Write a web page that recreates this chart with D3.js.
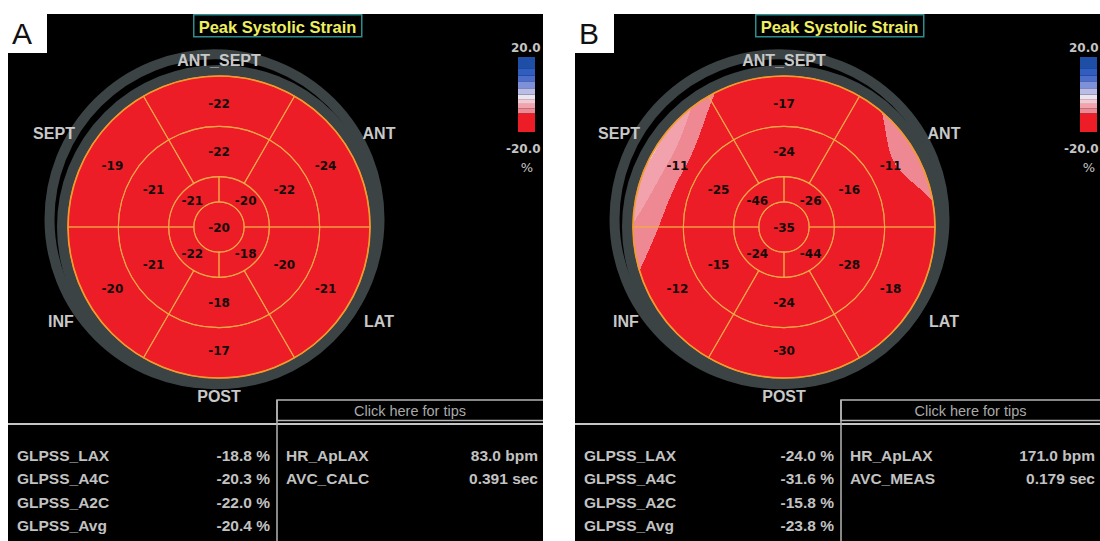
<!DOCTYPE html>
<html>
<head>
<meta charset="utf-8">
<script src="https://cdn.jsdelivr.net/npm/d3@7"></script>
<style>
  html, body { margin: 0; padding: 0; background: #ffffff; }
  svg { display: block; }
</style>
</head>
<body>
<svg id="chart" width="1100" height="541"></svg>
<script>
// ---- Data -------------------------------------------------------------
// Wall order, clockwise from the top of the bull's-eye
const walls = ["ANT_SEPT", "ANT", "LAT", "POST", "INF", "SEPT"];

// Peak systolic strain per segment (%), walls order; apical quadrants UR, LR, LL, UL
const basalA  = [-22, -24, -21, -17, -20, -19];
const midA    = [-22, -22, -20, -18, -21, -21];
const apicalA = [-20, -18, -22, -21];
const apexA   = -20;

const basalB  = [-17, -11, -18, -30, -12, -11];
const midB    = [-24, -16, -28, -24, -15, -25];
const apicalB = [-26, -44, -24, -46];
const apexB   = -35;

// Global strain table
const globalLabels = ["GLPSS_LAX", "GLPSS_A4C", "GLPSS_A2C", "GLPSS_Avg"];
const globalA = [-18.8, -20.3, -22.0, -20.4];
const globalB = [-24.0, -31.6, -15.8, -23.8];

const infoLabelsA = ["HR_ApLAX", "AVC_CALC"];
const infoLabelsB = ["HR_ApLAX", "AVC_MEAS"];
const heartRateA = 83.0, avcA = 0.391;
const heartRateB = 171.0, avcB = 0.179;

// Colour legend (strain %, stepped)
const legendDomain = [-20, 20];
const legendThresholds = [-10, -7.5, -5, -2.5, 0, 3.3, 6.7, 10, 14];
const legendColors = ["#ec1d26", "#ee8993", "#f2a2ad", "#f6c9d2", "#ebe4f1",
                      "#b9bde7", "#7d90d8", "#4c6ec9", "#2f5ec0", "#1f4ea6"];

const titleText = "Peak Systolic Strain";
const tipsText = "Click here for tips";
const unitText = "%";

// ---- Helpers ----------------------------------------------------------
const locale = d3.formatLocale({decimal: ".", thousands: ",", grouping: [3], currency: ["", ""], minus: "-"});
const f1 = locale.format(".1f");
const f3 = locale.format(".3f");
const fInt = locale.format("d");

const strainColor = d3.scaleThreshold().domain(legendThresholds).range(legendColors);
const rgbCache = new Map(legendColors.map(c => [c, d3.rgb(c)]));

const R = 151;                     // bull's-eye radius
const cy = 227;
const radius = d3.scaleLinear().domain([0, 1]).range([0, R]);
// ring boundaries: apex, apical, mid (basal ring runs out to R)
const rApex = radius(1 / 6), rApical = radius(1 / 3), rMid = radius(2 / 3);
// radii where each ring's value is sampled: apex, apical, mid, basal, rim
const nodeR = [0, radius(0.25), radius(0.5), radius(0.72), R];
// radius of the printed values per ring
const labelR = [0, radius(0.25), radius(0.5), radius(0.815)];
const rimGain = 0.35;              // share of the mid->basal gradient carried to the rim
const wallStep = 2 * Math.PI / walls.length;

function angularBlend(values, a, offset) {
  const n = values.length, step = 2 * Math.PI / n;
  let u = (a - offset) / step;
  u = ((u % n) + n) % n;
  const i = Math.floor(u), t = u - i;
  const w = (1 - Math.cos(Math.PI * t)) / 2;
  return values[i] * (1 - w) + values[(i + 1) % n] * w;
}

// Smooth strain field: piecewise-linear in radius through the ring values,
// continued past the basal ring to the rim.
function strainAt(r, a, p) {
  const ap = angularBlend(p.apical, a, Math.PI / 4);
  const mi = angularBlend(p.mid, a, 0);
  const ba = angularBlend(p.basal, a, 0);
  const rim = ba + rimGain * (ba - mi) * (nodeR[4] - nodeR[3]) / (nodeR[3] - nodeR[2]);
  const vs = [p.apex, ap, mi, ba, rim];
  let s = 0;
  while (s < 3 && r > nodeR[s + 1]) s++;
  const t = (r - nodeR[s]) / (nodeR[s + 1] - nodeR[s]);
  return vs[s] + (vs[s + 1] - vs[s]) * t;
}

function fieldImage(p) {
  const S = 2 * R + 4, c = S / 2;
  const cv = document.createElement("canvas");
  cv.width = S; cv.height = S;
  const ctx = cv.getContext("2d");
  const img = ctx.createImageData(S, S);
  for (let j = 0; j < S; j++) {
    for (let i = 0; i < S; i++) {
      const dx = i + 0.5 - c, dy = j + 0.5 - c;
      const r = Math.hypot(dx, dy);
      if (r > R + 1.5) continue;
      const a = Math.atan2(dx, -dy);
      const col = rgbCache.get(strainColor(strainAt(Math.min(r, R), a, p)));
      const o = 4 * (j * S + i);
      img.data[o] = col.r; img.data[o + 1] = col.g; img.data[o + 2] = col.b; img.data[o + 3] = 255;
    }
  }
  ctx.putImageData(img, 0, 0);
  return {href: cv.toDataURL(), S};
}

// ---- Layout -----------------------------------------------------------
const panels = [
  {id: "A", x0: 8, x1: 543, cx: 219, titleX: 193, legendX: 518, legendTextX: 510, tipsX: 277,
   basal: basalA, mid: midA, apical: apicalA, apex: apexA, global: globalA,
   infoLabels: infoLabelsA, info: [f1(heartRateA) + " bpm", f3(avcA) + " sec"]},
  {id: "B", x0: 575, x1: 1100, cx: 784, titleX: 755, legendX: 1080, legendTextX: 1068, tipsX: 841,
   basal: basalB, mid: midB, apical: apicalB, apex: apexB, global: globalB,
   infoLabels: infoLabelsB, info: [f1(heartRateB) + " bpm", f3(avcB) + " sec"]}
];

// wall name placement relative to the bull's-eye centre (text baseline)
const wallLabelPos = [[0, -161], [160, -88], [160, 100], [0, 175], [-158, 100], [-165, -88]];

const svg = d3.select("#chart");
const defs = svg.append("defs");
const arc = d3.arc();
const ringGrey = "#3c4345";
const gridColor = "#f2aa48";
const labelFont = "'Liberation Sans', Arial, sans-serif";

panels.forEach(p => {
  const top = 14, bottom = 541;
  defs.append("clipPath").attr("id", "clip" + p.id)
    .append("rect").attr("x", p.x0).attr("y", top).attr("width", p.x1 - p.x0).attr("height", bottom - top);
  defs.append("clipPath").attr("id", "disc" + p.id)
    .append("circle").attr("cx", p.cx).attr("cy", cy).attr("r", R);

  const g = svg.append("g").attr("clip-path", `url(#clip${p.id})`);
  g.append("rect").attr("x", p.x0).attr("y", top).attr("width", p.x1 - p.x0).attr("height", bottom - top)
    .attr("fill", "#000");

  // title
  g.append("rect").attr("x", p.titleX + 0.75).attr("y", top + 0.75).attr("width", 168).attr("height", 22)
    .attr("fill", "#000").attr("stroke", "#2f8c8c").attr("stroke-width", 1.5);
  g.append("text").attr("x", p.titleX + 84.5).attr("y", 33).attr("text-anchor", "middle")
    .attr("font-family", labelFont).attr("font-weight", "bold").attr("font-size", 16.5)
    .attr("fill", "#eeee5e").text(titleText);

  // colour legend
  const ly = d3.scaleLinear().domain(legendDomain).range([132, 57]);
  const edges = [legendDomain[0], ...legendThresholds, legendDomain[1]];
  g.append("g").selectAll("rect").data(legendColors).join("rect")
    .attr("x", p.legendX).attr("width", 17)
    .attr("y", (d, i) => ly(edges[i + 1]))
    .attr("height", (d, i) => ly(edges[i]) - ly(edges[i + 1]))
    .attr("fill", d => d);
  const legFont = "'DejaVu Sans', sans-serif";
  g.append("text").attr("x", p.legendTextX + 1).attr("y", 52)
    .attr("font-family", legFont).attr("font-weight", "bold").attr("font-size", 12).attr("fill", "#c4c4c4")
    .text(f1(legendDomain[1]));
  g.append("text").attr("x", p.legendTextX - 4).attr("y", 153)
    .attr("font-family", legFont).attr("font-weight", "bold").attr("font-size", 12).attr("fill", "#c4c4c4")
    .text(f1(legendDomain[0]));
  g.append("text").attr("x", p.legendX + 9).attr("y", 172).attr("text-anchor", "middle")
    .attr("font-family", legFont).attr("font-size", 13).attr("fill", "#c4c4c4").text(unitText);

  // grey surround rings
  g.append("circle").attr("cx", p.cx - 4.5).attr("cy", cy - 7.8).attr("r", 165)
    .attr("fill", "none").attr("stroke", ringGrey).attr("stroke-width", 10);
  g.append("circle").attr("cx", p.cx).attr("cy", cy).attr("r", R + 5.5)
    .attr("fill", "none").attr("stroke", ringGrey).attr("stroke-width", 11);

  // strain map
  const fi = fieldImage(p);
  g.append("image").attr("href", fi.href)
    .attr("x", p.cx - fi.S / 2).attr("y", cy - fi.S / 2).attr("width", fi.S).attr("height", fi.S)
    .attr("clip-path", `url(#disc${p.id})`);

  // segment outlines
  const segs = [];
  walls.forEach((w, i) => {
    const a0 = i * wallStep - wallStep / 2, a1 = a0 + wallStep;
    segs.push({inner: rMid, outer: R, start: a0, end: a1, value: p.basal[i], lr: labelR[3]});
    segs.push({inner: rApical, outer: rMid, start: a0, end: a1, value: p.mid[i], lr: labelR[2]});
  });
  p.apical.forEach((v, i) => {
    segs.push({inner: rApex, outer: rApical, start: i * Math.PI / 2, end: (i + 1) * Math.PI / 2, value: v, lr: labelR[1]});
  });
  segs.push({inner: 0, outer: rApex, start: 0, end: 2 * Math.PI, value: p.apex, lr: 0});

  const bull = g.append("g").attr("transform", `translate(${p.cx},${cy})`);
  bull.selectAll("path.seg").data(segs).join("path").attr("class", "seg")
    .attr("d", d => arc({innerRadius: d.inner, outerRadius: d.outer, startAngle: d.start, endAngle: d.end}))
    .attr("fill", "none").attr("stroke", gridColor).attr("stroke-width", 1.1).attr("stroke-opacity", 0.85);
  bull.append("circle").attr("r", R).attr("fill", "none").attr("stroke", "#f39a2c").attr("stroke-width", 1.6);

  bull.selectAll("text.val").data(segs).join("text").attr("class", "val")
    .attr("transform", d => {
      const [x, y] = d3.pointRadial((d.start + d.end) / 2, d.lr);
      return `translate(${x},${y + 4.5})`;
    })
    .attr("text-anchor", "middle")
    .attr("font-family", "'DejaVu Sans', sans-serif").attr("font-weight", "bold").attr("font-size", 12)
    .attr("fill", "#150b0b").text(d => fInt(d.value));

  // wall names
  bull.selectAll("text.wall").data(walls).join("text").attr("class", "wall")
    .attr("x", (d, i) => wallLabelPos[i][0]).attr("y", (d, i) => wallLabelPos[i][1])
    .attr("text-anchor", "middle").attr("font-family", labelFont).attr("font-weight", "bold")
    .attr("font-size", 16).attr("fill", "#c8c8c8").text(d => d);

  // tips box and table frame
  g.append("rect").attr("x", p.tipsX).attr("y", 400).attr("width", p.x1 - p.tipsX + 10).attr("height", 20.5)
    .attr("fill", "none").attr("stroke", "#b4b4b4").attr("stroke-width", 1.5);
  g.append("text").attr("x", (p.tipsX + p.x1) / 2).attr("y", 415.5).attr("text-anchor", "middle")
    .attr("font-family", labelFont).attr("font-size", 14.5).attr("fill", "#a9a9a9").text(tipsText);
  g.append("line").attr("x1", p.x0).attr("x2", p.x1).attr("y1", 424).attr("y2", 424)
    .attr("stroke", "#c6c6c6").attr("stroke-width", 2);
  g.append("line").attr("x1", p.tipsX).attr("x2", p.tipsX).attr("y1", 400).attr("y2", bottom)
    .attr("stroke", "#b4b4b4").attr("stroke-width", 1.5);

  const rowY = d3.scalePoint().domain(globalLabels).range([461, 531]);
  const tg = g.append("g").attr("font-family", labelFont).attr("font-weight", "bold")
    .attr("font-size", 15.5).attr("fill", "#c2c2c2");
  tg.selectAll("text.gl").data(globalLabels).join("text").attr("class", "gl")
    .attr("x", p.x0 + 9).attr("y", d => rowY(d)).text(d => d);
  tg.selectAll("text.gv").data(p.global).join("text").attr("class", "gv")
    .attr("x", p.tipsX - 7).attr("y", (d, i) => rowY(globalLabels[i])).attr("text-anchor", "end")
    .text(d => f1(d) + " %");
  tg.selectAll("text.il").data(p.infoLabels).join("text").attr("class", "il")
    .attr("x", p.tipsX + 9).attr("y", (d, i) => rowY(globalLabels[i])).text(d => d);
  tg.selectAll("text.iv").data(p.info).join("text").attr("class", "iv")
    .attr("x", p.x1 - 5).attr("y", (d, i) => rowY(globalLabels[i])).attr("text-anchor", "end").text(d => d);

  // panel letter
  svg.append("rect").attr("x", p.x0).attr("y", top).attr("width", 39).attr("height", 39).attr("fill", "#fff");
  svg.append("text").attr("x", p.x0 + 4).attr("y", 44).attr("font-family", labelFont)
    .attr("font-size", 30).attr("fill", "#111").text(p.id);
});
</script>
</body>
</html>
